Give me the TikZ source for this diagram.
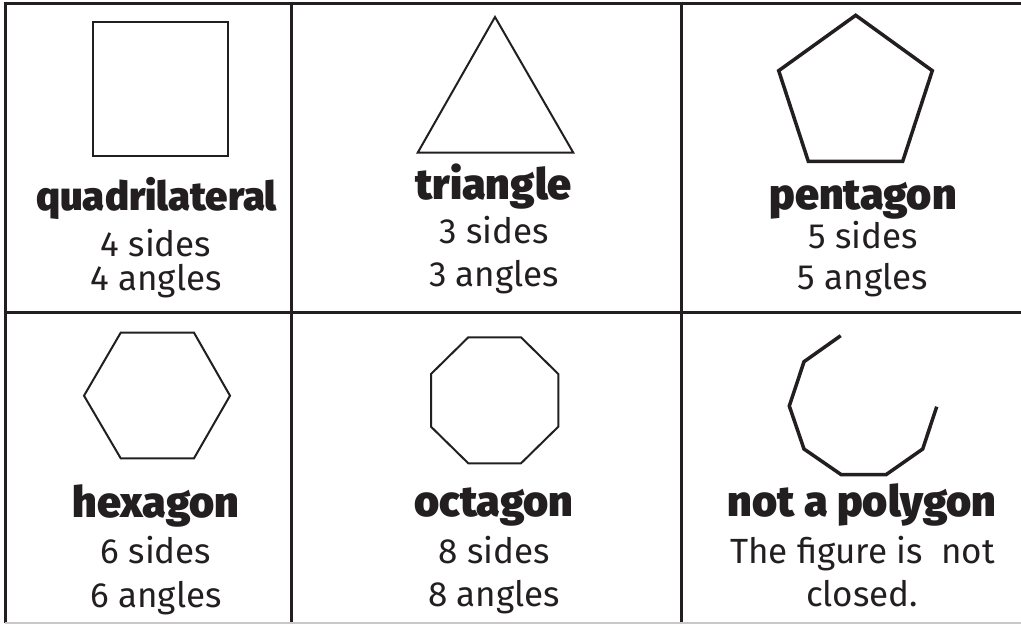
\documentclass[tikz,border=0pt]{standalone}
\usepackage{fontspec}
\setmainfont{Fira Sans}
\newfontfamily\headfont{Fira Sans Black}
\definecolor{ink}{HTML}{231F20}
\definecolor{faint}{HTML}{C8C8C8}
\tikzset{
  gridline/.style={draw=ink, line width=3pt},
  thinshape/.style={draw=ink, line width=2pt, line join=miter},
  thickshape/.style={draw=ink, line width=3.5pt, line join=miter},
  head/.style={anchor=base, inner sep=0pt, text=ink, font=\headfont\fontsize{43}{48}\selectfont},
  body/.style={anchor=base, inner sep=0pt, text=ink, font=\fontsize{35}{40}\selectfont},
}
\begin{document}
\begin{tikzpicture}[x=1pt,y=-1pt]
\useasboundingbox (0,0) rectangle (1021,624);
\fill[white] (0,0) rectangle (1021,624);
% grid
\coordinate (tl) at (3.5,3);
\coordinate (tr) at (1021,3);
\draw[gridline] (tl) -- (tr);
\draw[gridline] (5,1.5) -- (5,623);
\draw[gridline] (291,1.5) -- (291,623);
\draw[gridline] (681,1.5) -- (681,623);
\draw[gridline] (5,312) -- (1021,312);
\draw[draw=faint, line width=1.5pt] (5,623) -- (1021,623);
% shapes
\draw[thinshape] (93,22) rectangle (228,156);
\draw[thinshape] (495,17) -- (573.3,152.7) -- (417.7,152.7) -- cycle;
\draw[thickshape] (855.7,15.3) -- (932.3,70.7) -- (902.7,161.3) -- (808.3,161.3) -- (778.7,70.7) -- cycle;
\draw[thinshape] (120.7,332.7) -- (194,332.7) -- (230,395.7) -- (194,458.3) -- (120.7,458.3) -- (84,395.7) -- cycle;
\draw[thinshape] (468.3,337.3) -- (521,337.3) -- (558.3,374) -- (558.3,426.7) -- (521,463.3) -- (468.3,463.3) -- (431,426.7) -- (431,374) -- cycle;
\draw[thickshape] (840.7,335.7) -- (804,361.7) -- (789.3,406) -- (804,449) -- (841.3,474.7) -- (886,474.7) -- (922.7,449) -- (936.7,406.7);
% texts
\node[head, font=\headfont\fontsize{40}{45}\selectfont] (h1) at (156.5,210) {quadrilateral};
\node[body] (a1) at (156,256.7) {4 sides};
\node[body] (b1) at (156,290) {4 angles};
\node[head] (h2) at (493.5,199) {triangle};
\node[body] (a2) at (494,243.3) {3 sides};
\node[body] (b2) at (494,286.7) {3 angles};
\node[head] (h3) at (863,209) {pentagon};
\node[body] (a3) at (863,248.3) {5 sides};
\node[body] (b3) at (863,289.3) {5 angles};
\node[head] (h4) at (156,517.3) {hexagon};
\node[body] (a4) at (156,563.3) {6 sides};
\node[body] (b4) at (156,607.3) {6 angles};
\node[head] (h5) at (494,516.7) {octagon};
\node[body] (a5) at (494,563.3) {8 sides};
\node[body] (b5) at (494,606.7) {8 angles};
\node[head] (h6) at (862,516.7) {not a polygon};
\node[body] (a6) at (862.5,563.3) {The figure is\ \ not};
\node[body] (b6) at (862,606.7) {closed.};
\end{tikzpicture}
\end{document}
